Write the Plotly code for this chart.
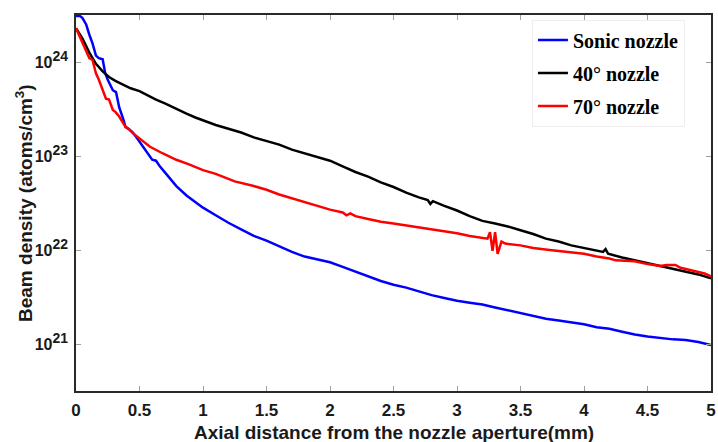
import plotly.graph_objects as go

# ---- data ----
x_sonic = [0, 0.03, 0.05, 0.08, 0.105, 0.13, 0.157, 0.18, 0.21, 0.23, 0.25, 0.29, 0.315, 0.34, 0.37, 0.39,
           0.42, 0.446, 0.47, 0.5, 0.54, 0.58, 0.6, 0.63, 0.66, 0.71, 0.79, 0.87, 0.94, 1.0, 1.1, 1.2, 1.3,
           1.4, 1.5, 1.6, 1.7, 1.8, 1.9, 2.0, 2.1, 2.2, 2.3, 2.4, 2.5, 2.6, 2.7, 2.8, 2.9, 3.0, 3.1, 3.2,
           3.3, 3.4, 3.5, 3.6, 3.7, 3.8, 3.9, 4.0, 4.1, 4.2, 4.3, 4.4, 4.5, 4.6, 4.7, 4.8, 4.9, 5.0]
y_sonic = [3.09e24, 3.09e24, 2.95e24, 2.51e24, 1.95e24, 1.58e24, 1.17e24, 1.10e24, 1.07e24, 7.59e23,
           6.46e23, 5.01e23, 4.79e23, 3.31e23, 2.51e23, 2.04e23, 1.91e23, 1.78e23, 1.62e23, 1.41e23,
           1.20e23, 1.00e23, 9.12e22, 8.91e22, 7.76e22, 6.46e22, 4.79e22, 3.80e22, 3.24e22, 2.82e22,
           2.34e22, 1.95e22, 1.66e22, 1.41e22, 1.26e22, 1.10e22, 9.55e21, 8.51e21, 7.94e21, 7.41e21,
           6.61e21, 5.89e21, 5.25e21, 4.68e21, 4.27e21, 3.98e21, 3.63e21, 3.31e21, 3.09e21, 2.88e21,
           2.75e21, 2.63e21, 2.45e21, 2.29e21, 2.14e21, 2.00e21, 1.86e21, 1.78e21, 1.70e21, 1.62e21,
           1.51e21, 1.45e21, 1.35e21, 1.26e21, 1.20e21, 1.15e21, 1.12e21, 1.10e21, 1.05e21, 9.77e20]

x_40 = [0, 0.05, 0.105, 0.157, 0.21, 0.26, 0.31, 0.37, 0.43, 0.5, 0.57, 0.63, 0.7, 0.79, 0.87, 0.94, 1.0,
        1.1, 1.2, 1.3, 1.4, 1.5, 1.6, 1.7, 1.8, 1.9, 2.0, 2.1, 2.2, 2.3, 2.4, 2.5, 2.6, 2.7, 2.77, 2.79,
        2.81, 2.9, 3.0, 3.1, 3.2, 3.3, 3.4, 3.5, 3.6, 3.7, 3.8, 3.9, 4.0, 4.1, 4.15, 4.17, 4.19, 4.3, 4.4,
        4.5, 4.6, 4.7, 4.8, 4.9, 5.0]
y_40 = [2.29e24, 1.78e24, 1.26e24, 9.55e23, 7.94e23, 6.92e23, 6.31e23, 5.75e23, 5.25e23, 4.90e23, 4.37e23,
        3.98e23, 3.63e23, 3.16e23, 2.82e23, 2.57e23, 2.40e23, 2.14e23, 1.95e23, 1.78e23, 1.58e23, 1.45e23,
        1.32e23, 1.17e23, 1.07e23, 9.77e22, 8.91e22, 7.76e22, 6.76e22, 6.03e22, 5.25e22, 4.68e22, 4.07e22,
        3.63e22, 3.39e22, 3.09e22, 3.31e22, 2.95e22, 2.63e22, 2.29e22, 2.04e22, 1.91e22, 1.78e22, 1.62e22,
        1.48e22, 1.32e22, 1.23e22, 1.12e22, 1.05e22, 9.77e21, 9.55e21, 1.02e22, 9.12e21, 8.32e21, 7.76e21,
        7.24e21, 6.76e21, 6.31e21, 5.89e21, 5.50e21, 5.01e21]

x_70 = [0, 0.05, 0.105, 0.13, 0.157, 0.18, 0.21, 0.236, 0.26, 0.29, 0.31, 0.34, 0.39, 0.42, 0.45, 0.5, 0.58,
        0.68, 0.79, 0.89, 1.0, 1.1, 1.2, 1.25, 1.4, 1.5, 1.6, 1.7, 1.8, 1.9, 2.0, 2.1, 2.13, 2.16, 2.2, 2.3,
        2.4, 2.5, 2.6, 2.7, 2.8, 2.9, 3.0, 3.1, 3.2, 3.24, 3.26, 3.28, 3.30, 3.32, 3.35, 3.38, 3.5, 3.6,
        3.73, 3.85, 4.0, 4.1, 4.2, 4.25, 4.4, 4.5, 4.6, 4.65, 4.72, 4.76, 4.85, 4.95, 5.0]
y_70 = [2.29e24, 1.58e24, 1.10e24, 1.05e24, 7.59e23, 6.46e23, 5.01e23, 4.07e23, 3.98e23, 3.09e23, 2.95e23,
        2.63e23, 2.04e23, 1.91e23, 1.74e23, 1.55e23, 1.26e23, 1.07e23, 9.12e22, 8.13e22, 7.08e22, 6.46e22,
        5.75e22, 5.37e22, 4.79e22, 4.37e22, 3.89e22, 3.55e22, 3.24e22, 2.95e22, 2.69e22, 2.51e22, 2.34e22,
        2.45e22, 2.29e22, 2.14e22, 2.00e22, 1.91e22, 1.82e22, 1.74e22, 1.66e22, 1.58e22, 1.51e22, 1.41e22,
        1.35e22, 1.32e22, 1.55e22, 9.77e21, 1.55e22, 9.12e21, 1.23e22, 1.17e22, 1.12e22, 1.05e22, 1.00e22,
        9.55e21, 9.12e21, 8.51e21, 8.13e21, 7.76e21, 7.59e21, 7.08e21, 6.76e21, 6.92e21, 6.92e21, 6.46e21,
        6.03e21, 5.62e21, 5.25e21]

series_names = ["Sonic nozzle", "40\u00b0 nozzle", "70\u00b0 nozzle"]
series_colors = ["#0000ff", "#000000", "#ff0000"]

x_ticks = [0, 0.5, 1, 1.5, 2, 2.5, 3, 3.5, 4, 4.5, 5]
x_tick_labels = ["0", "0.5", "1", "1.5", "2", "2.5", "3", "3.5", "4", "4.5", "5"]
y_ticks = [1e21, 1e22, 1e23, 1e24]
y_exponents = ["21", "22", "23", "24"]
x_title = "Axial distance from the nozzle aperture(mm)"
y_title = "Beam density (atoms/cm<sup>3</sup>)"

SANS = "Liberation Sans, Arial, sans-serif"
y_tick_labels = ['10<sup><span style="font-size:14px">%s</span></sup>' % e for e in y_exponents]

fig = go.Figure()
for xs, ys, name, col in zip([x_sonic, x_40, x_70], [y_sonic, y_40, y_70], series_names, series_colors):
    fig.add_trace(go.Scatter(x=xs, y=ys, mode="lines", name=name, legendgroup=name,
                             line=dict(color=col, width=2.5)))

axis_common = dict(showline=True, linecolor="#2a2a2a", linewidth=1.5, mirror="ticks",
                   ticks="inside", ticklen=5, tickcolor="#a0a0a0", tickwidth=1,
                   showgrid=False, zeroline=False, automargin=False, ticklabeloverflow="allow")

fig.update_layout(
    width=718, height=442,
    margin=dict(l=76, r=7, t=15, b=51),
    paper_bgcolor="white", plot_bgcolor="white",
    showlegend=True,
    legend=dict(x=0.718, y=0.988, xanchor="left", yanchor="top",
                bgcolor="white", bordercolor="#eeeeee", borderwidth=1,
                font=dict(family="Liberation Serif, Times New Roman, serif", size=20, color="black",
                          weight="bold"),
                tracegroupgap=4),
    xaxis=dict(range=[0, 5], tickvals=x_ticks, ticktext=x_tick_labels,
               tickfont=dict(family=SANS, size=17, color="#1a1a1a", weight="bold"),
               ticklabelstandoff=3, **axis_common),
    yaxis=dict(type="log", range=[20.5, 24.5], tickvals=y_ticks, ticktext=y_tick_labels,
               tickfont=dict(family=SANS, size=16, color="#1a1a1a", weight="bold"),
               ticklabelstandoff=3, **axis_common),
    annotations=[
        dict(text=x_title, xref="paper", yref="paper", x=0.5, y=0, xanchor="center", yanchor="middle",
             yshift=-41, showarrow=False,
             font=dict(family=SANS, size=19, color="#1a1a1a", weight="bold")),
        dict(text=y_title, xref="paper", yref="paper", x=0, y=0.5, xanchor="center", yanchor="middle",
             xshift=-52, textangle=-90, showarrow=False,
             font=dict(family=SANS, size=19, color="#1a1a1a", weight="bold")),
    ],
)

fig.write_html("out.html", config={"displayModeBar": False},
               post_script="document.body.style.margin='0';document.body.style.overflow='hidden';")
